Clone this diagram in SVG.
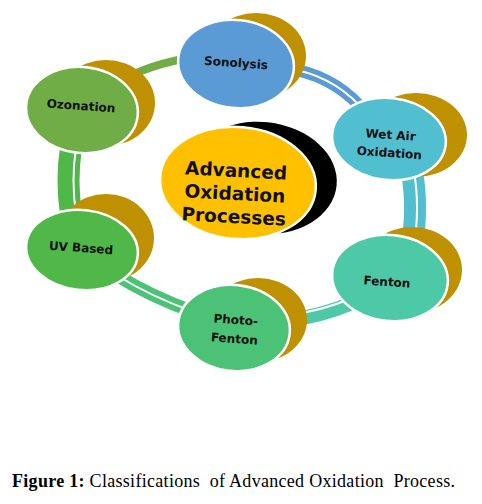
<svg xmlns="http://www.w3.org/2000/svg" width="482" height="504" viewBox="0 0 482 504">
<style>
.shadow{fill:#bf9000}
.main{stroke:#ffffff;stroke-width:2.5}
.lbl{font-family:"DejaVu Sans",Verdana,sans-serif;font-weight:bold;font-size:12px;fill:#111;text-anchor:middle}
.big{font-family:"DejaVu Sans",Verdana,sans-serif;font-weight:bold;font-size:18.5px;fill:#111;text-anchor:middle}
.band{fill:none}
.sep{fill:none;stroke:#ffffff;stroke-width:2}
.cap{font-family:"Liberation Serif","Times New Roman",serif;font-size:18px;fill:#000;white-space:pre}
</style>
<rect width="482" height="504" fill="#ffffff"/>
<g id="connectors">
  <path class="band" d="M 118 82 Q 150 64 194 57" stroke="#70ad47" stroke-width="8"/>
  <path class="band" d="M 285 68 Q 330 74 360 106" stroke="#5b9bd5" stroke-width="12"/>
  <path class="sep" d="M 285 68 Q 330 74 360 106"/>
  <path class="band" d="M 412 172 Q 418 205 412 248" stroke="#52bfd0" stroke-width="22"/>
  <path class="sep" d="M 414 172 Q 420 205 414 248"/>
  <path class="band" d="M 352 303 Q 322 316 284 321" stroke="#4ec9a8" stroke-width="14"/>
  <path class="sep" d="M 352 298 Q 322 311 284 316"/>
  <path class="band" d="M 118 276 Q 150 296 194 312" stroke="#4cc276" stroke-width="13"/>
  <path class="sep" d="M 118 276 Q 150 296 194 312"/>
  <path class="band" d="M 71 148 Q 66 180 71 214" stroke="#50b848" stroke-width="22"/>
  <path class="sep" d="M 76 148 Q 71 180 76 214"/>
</g>
<g id="center">
  <ellipse cx="262" cy="178" rx="75" ry="56" fill="#000000" transform="rotate(6 262 178)"/>
  <ellipse class="main" cx="238" cy="183" rx="78" ry="56" fill="#ffc000" transform="rotate(5 238 183)"/>
  <g transform="rotate(3 235 192)">
    <text class="big" x="235" y="177">Advanced</text>
    <text class="big" x="235" y="200">Oxidation</text>
    <text class="big" x="235" y="223">Processes</text>
  </g>
</g>
<g id="sonolysis">
  <ellipse class="shadow" cx="256" cy="56" rx="50" ry="43"/>
  <ellipse class="main" cx="236" cy="64" rx="58" ry="44" fill="#5b9bd5" transform="rotate(6 236 64)"/>
  <text class="lbl" x="236" y="67" transform="rotate(4 236 63)">Sonolysis</text>
</g>
<g id="ozonation">
  <ellipse class="shadow" cx="106" cy="103" rx="49" ry="43"/>
  <ellipse class="main" cx="82" cy="110" rx="56" ry="43" fill="#70ad47" transform="rotate(6 82 110)"/>
  <text class="lbl" x="81" y="110" transform="rotate(4 81 106)">Ozonation</text>
</g>
<g id="wetair">
  <ellipse class="shadow" cx="416" cy="135" rx="51" ry="42"/>
  <ellipse class="main" cx="389" cy="139" rx="57" ry="41" fill="#52bfd0" transform="rotate(6 389 139)"/>
  <g transform="rotate(4 390 143)">
    <text class="lbl" x="390" y="139">Wet Air</text>
    <text class="lbl" x="390" y="157">Oxidation</text>
  </g>
</g>
<g id="uvbased">
  <ellipse class="shadow" cx="106" cy="238" rx="48" ry="44"/>
  <ellipse class="main" cx="82" cy="250" rx="56" ry="40" fill="#50b848" transform="rotate(6 82 250)"/>
  <text class="lbl" x="81" y="252" transform="rotate(4 81 248)">UV Based</text>
</g>
<g id="fenton">
  <ellipse class="shadow" cx="412" cy="270" rx="50" ry="43"/>
  <ellipse class="main" cx="390" cy="278" rx="58" ry="43" fill="#4ec9a8" transform="rotate(6 390 278)"/>
  <text class="lbl" x="387" y="286" transform="rotate(4 387 282)">Fenton</text>
</g>
<g id="photofenton">
  <ellipse class="shadow" cx="258" cy="320" rx="49" ry="42"/>
  <ellipse class="main" cx="234" cy="328" rx="56" ry="43" fill="#4cc276" transform="rotate(6 234 328)"/>
  <g transform="rotate(4 235 330)">
    <text class="lbl" x="235" y="324">Photo-</text>
    <text class="lbl" x="235" y="343">Fenton</text>
  </g>
</g>
<text class="cap" x="12" y="487" textLength="443" lengthAdjust="spacing" xml:space="preserve"><tspan font-weight="bold">Figure 1:</tspan> Classifications  of Advanced Oxidation  Process.</text>
</svg>
